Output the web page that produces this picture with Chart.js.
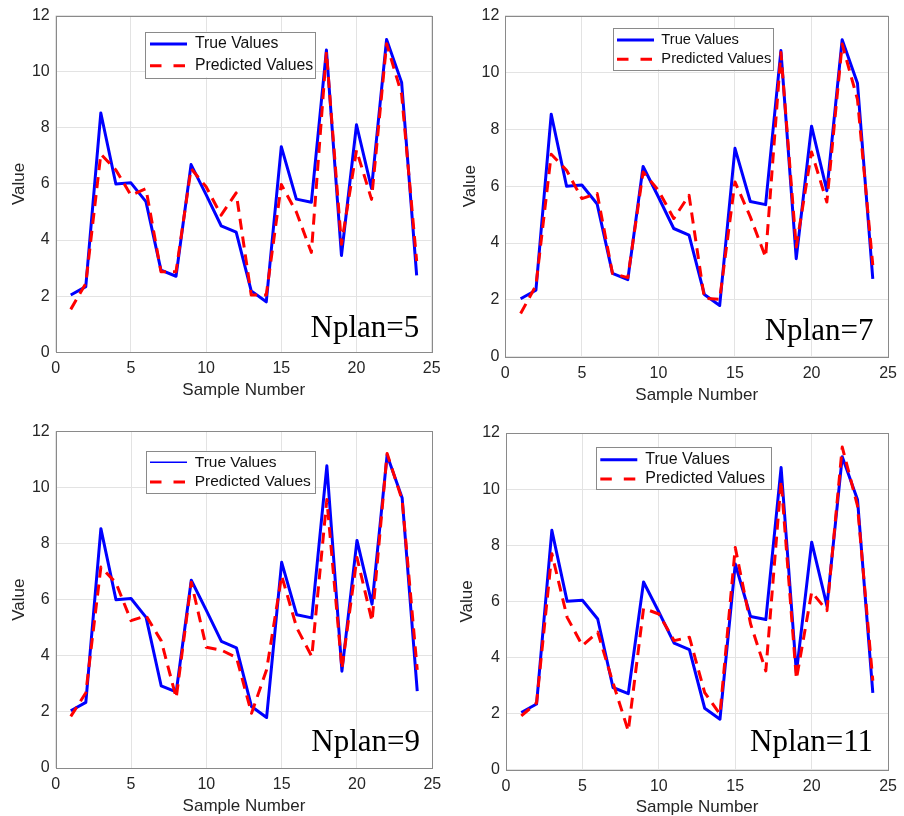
<!DOCTYPE html>
<html lang="en">
<head>
  <meta charset="UTF-8">
  <title>True vs Predicted Values</title>
  <script src="https://cdn.jsdelivr.net/npm/chart.js"></script>
  <style>
    body { margin: 0; background: #fff; }
    #wrap { position: relative; width: 904px; height: 816px; }
    #wrap canvas { position: absolute; }
  </style>
</head>
<body>
<div id="wrap">
  <canvas id="c5" width="452" height="408" style="left:0;top:0"></canvas>
  <canvas id="c7" width="452" height="408" style="left:452px;top:0"></canvas>
  <canvas id="c9" width="452" height="408" style="left:0;top:408px"></canvas>
  <canvas id="c11" width="452" height="408" style="left:452px;top:408px"></canvas>
</div>

<script>
  // data
  const sampleNo = [1, 2, 3, 4, 5, 6, 7, 8, 9, 10, 11, 12, 13, 14, 15, 16, 17, 18, 19, 20, 21, 22, 23, 24];
  const trueValues = [2.04, 2.34, 8.53, 6.00, 6.04, 5.37, 2.93, 2.71, 6.69, 5.62, 4.51, 4.28, 2.19, 1.80, 7.33, 5.46, 5.35, 10.77, 3.45, 8.11, 5.84, 11.15, 9.62, 2.74];
  const predN5 = [1.53, 2.45, 7.06, 6.50, 5.60, 5.83, 2.87, 2.87, 6.55, 5.90, 4.89, 5.68, 2.04, 2.04, 5.98, 5.00, 3.56, 10.70, 3.85, 7.20, 5.45, 11.00, 9.20, 3.25];
  const predN7 = [1.52, 2.50, 7.12, 6.56, 5.56, 5.74, 2.93, 2.78, 6.50, 5.85, 4.86, 5.68, 2.05, 2.02, 6.15, 4.92, 3.50, 10.70, 3.86, 7.20, 5.44, 11.00, 9.05, 3.22];
  const predN9 = [1.84, 2.68, 7.16, 6.60, 5.25, 5.43, 4.54, 2.50, 6.62, 4.30, 4.20, 3.94, 1.95, 3.50, 6.85, 5.00, 3.97, 9.57, 3.54, 7.50, 5.23, 11.21, 9.55, 3.50];
  const predN11 = [1.92, 2.38, 7.70, 5.43, 4.42, 4.90, 3.10, 1.38, 5.75, 5.55, 4.60, 4.72, 2.75, 1.98, 7.92, 5.20, 3.52, 10.30, 3.23, 6.33, 5.67, 11.50, 9.40, 3.17];
  const seriesNames = ['True Values', 'Predicted Values'];
  const panelTags = ['Nplan=5', 'Nplan=7', 'Nplan=9', 'Nplan=11'];
  const xRange = [0, 25, 5];
  const yRange = [0, 12, 2];

  const tickColor = '#262626';
  const gridColor = '#e3e3e3';
  const boxColor = '#8a8a8a';
  const sans = '"Liberation Sans", Arial, sans-serif';

  // layout of each panel inside its 452x408 canvas
  const panels = [
    { id: 'c5', pred: predN5, tag: panelTags[0],
      area: { l: 55.7, t: 15, r: 431.7, b: 352.3 }, yPad: 8.8, xPad: 7.1,
      leg: { x: 145, y: 31.7, w: 170, h: 45.6, lineX: 150, rowY: 44, font: 15.8, gap: 5.9, trueW: 3 },
      tagAt: { dx: 12.4, dy: 15.6 } },
    { id: 'c7', pred: predN7, tag: panelTags[1],
      area: { l: 53.3, t: 15, r: 442, b: 356.7 }, yPad: 8.6, xPad: 2.8,
      leg: { x: 161, y: 27.7, w: 159.7, h: 41.6, lineX: 165, rowY: 40, font: 14.7, gap: 4.6, trueW: 3 },
      tagAt: { dx: 14.7, dy: 16.7 } },
    { id: 'c9', pred: predN9, tag: panelTags[2],
      area: { l: 55.7, t: 23.3, r: 432.3, b: 360 }, yPad: 9.1, xPad: -0.5,
      leg: { x: 145.7, y: 42.7, w: 168.6, h: 41.6, lineX: 150, rowY: 54.3, font: 15.5, gap: 4.2, trueW: 1.6 },
      tagAt: { dx: 12.3, dy: 16.7 } },
    { id: 'c11', pred: predN11, tag: panelTags[3],
      area: { l: 54, t: 25, r: 441.7, b: 361.7 }, yPad: 5.6, xPad: -1.2,
      leg: { x: 144, y: 39.3, w: 175, h: 42.4, lineX: 148.3, rowY: 51.7, font: 16, gap: 3.3, trueW: 3 },
      tagAt: { dx: 15, dy: 18.4 } }
  ];

  // full box around the plot area
  const framePlugin = {
    id: 'frame',
    afterDraw(chart) {
      const { ctx, chartArea: a } = chart;
      ctx.save();
      ctx.strokeStyle = boxColor;
      ctx.lineWidth = 1;
      const l = Math.round(a.left) + 0.5, t = Math.round(a.top) + 0.5;
      ctx.strokeRect(l, t, Math.round(a.right) - Math.round(a.left), Math.round(a.bottom) - Math.round(a.top));
      ctx.restore();
    }
  };

  // Nplan label in the lower right corner
  const tagPlugin = {
    id: 'tag',
    afterDraw(chart, args, opts) {
      const { ctx, chartArea: a } = chart;
      ctx.save();
      ctx.font = '31px "Liberation Serif", "Times New Roman", serif';
      ctx.fillStyle = '#000';
      ctx.textAlign = 'right';
      ctx.textBaseline = 'alphabetic';
      ctx.fillText(opts.text, a.right - opts.dx, a.bottom - opts.dy);
      ctx.restore();
    }
  };

  // move the legend inside the axes and give it a white framed box
  const legendBoxPlugin = {
    id: 'legendBox',
    beforeDraw(chart, args, opts) {
      const lg = chart.legend;
      if (!lg) return;
      const lab = chart.options.plugins.legend.labels;
      const pad = lab.padding;
      const fs = lab.font.size;
      lg.left = opts.lineX - pad;
      lg.top = opts.rowY - fs / 2 - pad;
      lg.right = opts.x + opts.w;
      lg.bottom = chart.chartArea.bottom;
      lg.width = lg.right - lg.left;
      lg.height = lg.bottom - lg.top;
      if (!lg._boxed) {
        const draw = lg.draw.bind(lg);
        lg.draw = (area) => {
          const ctx = chart.ctx;
          ctx.save();
          ctx.fillStyle = '#fff';
          ctx.fillRect(opts.x, opts.y, opts.w, opts.h);
          ctx.strokeStyle = boxColor;
          ctx.lineWidth = 1;
          ctx.strokeRect(Math.round(opts.x) + 0.5, Math.round(opts.y) + 0.5, Math.round(opts.w), Math.round(opts.h));
          ctx.restore();
          draw(area);
        };
        lg._boxed = true;
      }
    }
  };

  function points(vals) {
    return sampleNo.map((x, i) => ({ x: x, y: vals[i] }));
  }

  panels.forEach(p => {
    const ctx = document.getElementById(p.id).getContext('2d');
    new Chart(ctx, {
      type: 'line',
      data: {
        datasets: [
          {
            label: seriesNames[0],
            data: points(trueValues),
            borderColor: '#0000ff',
            borderWidth: 3,
            borderJoinStyle: 'round',
            pointRadius: 0,
            tension: 0,
            fill: false,
            order: 1
          },
          {
            label: seriesNames[1],
            data: points(p.pred),
            borderColor: '#ff0000',
            borderWidth: 3,
            borderDash: [11, 7],
            borderJoinStyle: 'round',
            pointRadius: 0,
            tension: 0,
            fill: false,
            order: 0
          }
        ]
      },
      options: {
        responsive: false,
        animation: false,
        events: [],
        layout: {
          padding: { left: 0, top: p.area.t, right: 452 - p.area.r, bottom: 0 }
        },
        scales: {
          x: {
            type: 'linear',
            min: xRange[0],
            max: xRange[1],
            ticks: { stepSize: xRange[2], padding: 7, color: tickColor, font: { family: sans, size: 16 } },
            grid: { color: gridColor, drawTicks: false },
            border: { display: false },
            title: {
              display: true, text: 'Sample Number', color: tickColor,
              font: { family: sans, size: 17 }, padding: { top: 0, bottom: p.xPad }
            },
            afterFit: s => { s.height = 408 - p.area.b; }
          },
          y: {
            type: 'linear',
            min: yRange[0],
            max: yRange[1],
            ticks: { stepSize: yRange[2], padding: 6, color: tickColor, font: { family: sans, size: 16 } },
            grid: { color: gridColor, drawTicks: false },
            border: { display: false },
            title: {
              display: true, text: 'Value', color: tickColor,
              font: { family: sans, size: 17 }, padding: { top: p.yPad, bottom: 0 }
            },
            afterFit: s => { s.width = p.area.l; }
          }
        },
        plugins: {
          legend: {
            position: 'chartArea',
            align: 'start',
            labels: {
              usePointStyle: true,
              pointStyle: 'line',
              pointStyleWidth: 37,
              padding: p.leg.gap,
              color: '#111',
              font: { family: sans, size: p.leg.font },
              sort: (a, b) => a.datasetIndex - b.datasetIndex,
              generateLabels: (chart) => {
                const items = Chart.defaults.plugins.legend.labels.generateLabels(chart);
                items.forEach(it => {
                  if (it.datasetIndex === 0) {
                    it.lineWidth = p.leg.trueW;
                  } else {
                    it.lineWidth = 3;
                    it.lineDash = [11.5, 12];
                  }
                });
                return items;
              }
            }
          },
          tooltip: { enabled: false },
          legendBox: p.leg,
          tag: { text: p.tag, dx: p.tagAt.dx, dy: p.tagAt.dy }
        }
      },
      plugins: [legendBoxPlugin, framePlugin, tagPlugin]
    });
  });
</script>
</body>
</html>
